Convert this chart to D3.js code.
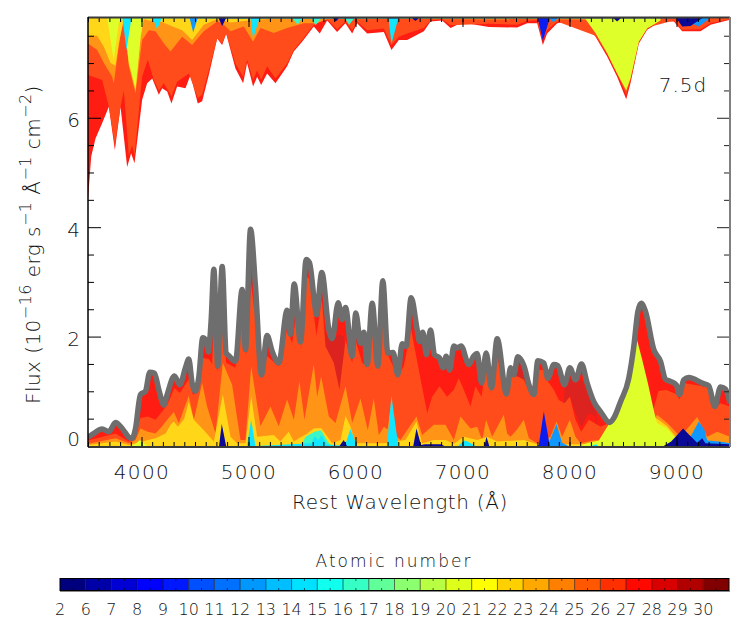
<!DOCTYPE html>
<html><head><meta charset="utf-8">
<script src="https://cdn.jsdelivr.net/npm/d3@7/dist/d3.min.js"></script>
<style>
html,body{margin:0;padding:0;background:#fff}
svg{display:block}
text{font-family:"DejaVu Sans";font-weight:200;fill:#111}
</style></head><body><div id="c"></div>
<script>
// ---- lower panel: cumulative flux boundaries [wavelength, flux] ----
const totalFlux=[[3500,.16],[3555,.23],[3632,.31],[3695,.26],[3757,.43],[3820,.32],[3882,.16],[3913,.14],[3944,.32],[3990,.94],[4037,1.0],[4078,1.35],[4121,1.33],[4162,1.03],[4209,.75],[4240,.94],[4308,1.28],[4358,1.12],[4411,1.43],[4442,1.59],[4473,1.15],[4505,1.0],[4536,1.27],[4573,1.98],[4604,1.93],[4625,1.72],[4651,2.3],[4676,3.23],[4713,1.46],[4754,3.28],[4791,1.70],[4816,1.65],[4878,1.55],[4941,2.86],[4972,1.76],[5019,3.96],[5065,2.92],[5121,1.30],[5174,2.02],[5221,1.73],[5283,1.52],[5361,2.48],[5392,2.04],[5427,2.96],[5486,1.9],[5539,3.41],[5570,3.35],[5617,2.62],[5635,2.40],[5685,3.17],[5751,2.13],[5782,1.96],[5838,2.62],[5875,2.31],[5907,2.53],[5969,1.64],[6003,2.43],[6047,1.88],[6078,2.08],[6109,1.49],[6156,2.61],[6209,1.46],[6255,3.02],[6302,1.70],[6352,1.71],[6395,1.30],[6436,1.87],[6473,1.82],[6520,2.71],[6576,2.13],[6598,1.91],[6629,2.08],[6663,1.67],[6701,2.12],[6738,1.67],[6785,1.61],[6819,1.43],[6847,1.64],[6881,1.39],[6919,1.83],[6950,1.79],[6987,1.83],[7059,1.49],[7106,1.65],[7137,1.69],[7178,1.15],[7221,1.70],[7271,1.06],[7324,1.96],[7411,.95],[7449,1.43],[7479,1.3],[7517,1.63],[7573,1.47],[7626,1.09],[7667,.94],[7704,1.56],[7760,1.52],[7798,1.24],[7854,1.49],[7891,1.47],[7953,1.12],[8003,1.43],[8056,1.21],[8112,1.50],[8165,1.15],[8227,.81],[8290,.63],[8374,.43],[8414,.51],[8477,.81],[8554,1.24],[8601,1.82],[8639,2.46],[8670,2.61],[8710,2.46],[8788,1.76],[8850,1.55],[8897,1.22],[8944,1.18],[8997,1.12],[9028,.94],[9068,1.21],[9115,1.25],[9240,1.15],[9302,1.10],[9358,.72],[9411,1.08],[9458,1.04],[9500,.78]];
const darkRedTop=[[5630,0],[5648,2.31],[5704,2.13],[5766,1.94],[5844,2.04],[5891,2.0],[5910,1.6],[5925,0],[7440,0],[7449,1.3],[7517,1.55],[7573,1.4],[7626,1.0],[7640,0],[7940,0],[7953,1.09],[8003,1.27],[8056,1.18],[8112,1.21],[8165,1.03],[8212,.81],[8252,.6],[8265,0]];
const redUnderDark=[[7990,0],[8003,.94],[8056,.6],[8109,.35],[8181,.6],[8243,.54],[8265,0]];
const orangeRedTop=[[3500,.1],[3757,.23],[3882,.08],[3944,.23],[3990,.51],[4059,.54],[4131,.48],[4193,.63],[4240,.75],[4308,1.06],[4358,.97],[4442,1.22],[4480,.94],[4520,.97],[4573,1.61],[4629,1.59],[4660,1.5],[4676,2.3],[4695,1.43],[4713,1.39],[4754,2.4],[4791,1.52],[4878,1.43],[4941,2.31],[4981,1.67],[5025,2.95],[5081,2.07],[5121,1.24],[5174,1.64],[5283,1.46],[5361,2.13],[5408,1.88],[5439,2.31],[5492,1.85],[5539,3.11],[5570,3.05],[5617,2.31],[5635,2.01],[5685,2.68],[5720,1.82],[5797,1.52],[5850,1.03],[5907,1.94],[5969,1.52],[6000,1.94],[6062,1.52],[6109,1.46],[6156,2.34],[6209,1.46],[6255,2.68],[6302,1.67],[6395,1.27],[6451,1.46],[6520,2.13],[6592,1.39],[6670,.6],[6716,.9],[6785,1.09],[6856,.9],[6919,1.03],[6965,1.24],[7012,1.03],[7075,.72],[7121,1.09],[7178,.9],[7221,1.52],[7271,1.03],[7324,1.64],[7411,.94],[7449,1.27],[7517,1.27],[7573,1.21],[7635,.94],[7667,.90],[7704,1.39],[7776,1.39],[7798,1.18],[7854,1.03],[7900,.84],[7953,.78],[8003,.9],[8056,.48],[8109,.26],[8181,.48],[8290,.35],[8374,.42],[8632,.5],[8788,.7],[8830,1.0],[8897,1.03],[8997,.95],[9028,.85],[9068,1.15],[9240,1.09],[9318,1.06],[9358,.69],[9411,.78],[9500,.72]];
const orangeTop=[[3500,.04],[3757,.14],[3882,.05],[3944,.11],[3990,.32],[4059,.26],[4131,.23],[4193,.36],[4240,.48],[4302,.62],[4349,.42],[4442,.92],[4489,.48],[4567,1.15],[4613,.72],[4692,.23],[4760,1.52],[4847,1.12],[4925,.11],[4972,.11],[5025,1.46],[5112,.36],[5205,.72],[5283,.36],[5361,.85],[5424,.48],[5476,1.18],[5523,.48],[5610,1.49],[5642,.9],[5679,1.27],[5751,.54],[5813,.42],[5907,1.09],[5969,.42],[6047,.87],[6115,.29],[6171,.87],[6218,.2],[6265,.35],[6300,.3],[6336,.85],[6375,.2],[6420,.11],[6570,.54],[6623,.2],[6732,.39],[6841,.39],[6919,.11],[6981,.54],[7075,.32],[7137,.35],[7184,.11],[7221,.48],[7277,.17],[7386,.57],[7417,.23],[7449,.17],[7510,.3],[7573,.48],[7620,.14],[7698,.05],[7822,.17],[7879,.45],[7931,.17],[8003,.48],[8056,.17],[8103,.05],[8227,.1],[8300,.1],[8700,.2],[8819,.57],[8913,.42],[9037,.17],[9193,.53],[9287,.17],[9380,.26],[9500,.17]];
const goldTop=[[3500,.02],[3757,.08],[3882,.02],[4010,.08],[4059,.11],[4131,.14],[4225,.23],[4271,.39],[4302,.45],[4340,.35],[4399,.50],[4442,.81],[4489,.48],[4583,.29],[4676,.08],[4760,.94],[4832,.17],[4894,.05],[4972,.05],[5025,.91],[5081,.17],[5236,.2],[5298,.08],[5376,.26],[5424,.08],[5470,.14],[5536,.21],[5610,.32],[5679,.33],[5782,.05],[5860,.11],[5907,.55],[5954,.35],[6000,.05],[6265,.05],[6467,.11],[6570,.45],[6623,.05],[6732,.11],[6841,.11],[6919,.04],[7012,.17],[7137,.11],[7230,.17],[7324,.08],[7573,.11],[7698,.03],[8103,.03],[8300,.05],[8600,.05],[8790,.5],[8819,.5],[8913,.36],[9006,.14],[9500,.03]];
const yellowGreenTop=[[3900,0],[3950,.05],[3985,.11],[4020,.05],[4060,0],[8100,0],[8165,.05],[8274,.1],[8374,.42],[8414,.5],[8477,.8],[8554,1.22],[8601,1.8],[8626,1.98],[8679,1.58],[8732,1.15],[8794,.6],[8819,.42],[8913,.32],[9006,.11],[9040,0]];
const tealTop=[[5490,0],[5533,.17],[5617,.26],[5679,.29],[5735,.1],[5770,0]];
const cyanTop=[[4985,0],[5025,.48],[5065,0],[5590,.05],[5620,.18],[5650,.1],[5685,.2],[5730,.03],[5900,0],[5953,.31],[6015,0],[6295,0],[6336,.92],[6400,0],[6960,0],[7012,.1],[7050,.08],[7120,0],[8200,0],[8250,.03],[8270,0]];
const skyTop=[[7790,0],[7816,.1],[7879,.40],[7930,.06],[7990,0],[9040,0],[9090,.1],[9140,.2],[9208,.45],[9260,.3],[9287,.1],[9400,.08],[9500,.05]];
const blueTop=[[7700,0],[7713,.02],[7760,.63],[7816,0]];
const navyTop=[[4725,0],[4750,.40],[4791,0],[5850,0],[5890,.11],[5920,0],[6540,0],[6570,.32],[6612,.02],[6650,.03],[6800,.03],[6830,0],[7205,0],[7224,.17],[7250,0],[8880,0],[8950,.08],[9062,.32],[9120,.2],[9193,.06],[9240,.14],[9270,.05],[9500,.03]];
// ---- upper panel: lower edge of each band, hanging from the top of the frame ----
const upperRed=[[3500,4.5],[3530,5.29],[3570,5.62],[3632,5.9],[3695,6.2],[3751,5.41],[3804,6.2],[3866,5.1],[3903,5.35],[3935,5.17],[4006,6.33],[4053,6.63],[4100,6.72],[4162,6.42],[4193,6.54],[4240,6.48],[4280,6.26],[4333,6.57],[4411,6.54],[4458,6.78],[4526,6.26],[4567,6.3],[4629,6.78],[4707,7.45],[4754,7.33],[4791,7.54],[4878,6.9],[4950,6.63],[4987,7.0],[5043,6.57],[5081,6.75],[5118,6.6],[5174,6.81],[5252,6.63],[5361,6.94],[5423,7.21],[5501,7.39],[5610,7.67],[5666,7.54],[5735,7.78],[5828,7.57],[5906,7.73],[5969,7.54],[6015,7.73],[6109,7.54],[6265,7.57],[6336,7.24],[6405,7.42],[6483,7.42],[6639,7.58],[6701,7.76],[6810,7.78],[6888,7.64],[6997,7.74],[7246,7.66],[7511,7.65],[7604,7.73],[7698,7.73],[7729,7.5],[7751,7.33],[7791,7.54],[7885,7.73],[8009,7.78],[8134,7.76],[8243,7.48],[8352,7.12],[8445,6.75],[8530,6.34],[8570,6.63],[8648,7.36],[8726,7.61],[8850,7.76],[8975,7.76],[9053,7.58],[9224,7.58],[9318,7.7],[9500,7.79]];
const upperOrangeRed=[[3500,6.78],[3632,6.69],[3695,6.2],[3751,5.5],[3804,6.2],[3835,6.5],[3882,5.3],[3912,5.5],[3935,5.32],[4006,6.75],[4059,7.06],[4115,6.69],[4162,6.5],[4209,6.63],[4280,6.39],[4333,6.66],[4442,6.81],[4526,6.36],[4567,6.42],[4629,6.87],[4707,7.45],[4754,7.36],[4791,7.54],[4878,6.99],[4950,6.75],[4987,7.06],[5043,6.69],[5081,6.87],[5118,6.69],[5174,6.94],[5252,6.72],[5361,6.99],[5423,7.24],[5501,7.42],[5610,7.7],[5735,7.8],[5828,7.62],[5906,7.76],[5969,7.6],[6015,7.76],[6109,7.6],[6265,7.63],[6336,7.33],[6405,7.48],[6483,7.54],[6639,7.64],[6701,7.78],[6810,7.8],[6888,7.69],[7246,7.72],[7511,7.7],[7604,7.77],[7698,7.78],[7751,7.42],[7791,7.6],[7885,7.76],[8243,7.5],[8352,7.16],[8445,6.8],[8530,6.42],[8570,6.68],[8648,7.4],[8726,7.65],[8975,7.78],[9053,7.61],[9224,7.62],[9318,7.73],[9500,7.8]];
const upperOrange=[[3500,7.36],[3586,7.24],[3648,7.0],[3726,6.75],[3741,6.63],[3804,7.54],[3835,7.78],[3882,6.94],[3944,6.45],[4006,7.42],[4069,7.6],[4131,7.58],[4209,7.36],[4271,7.21],[4380,7.48],[4473,7.33],[4582,7.58],[4707,7.76],[4754,7.73],[4832,7.58],[4956,7.67],[5043,7.39],[5112,7.64],[5236,7.55],[5361,7.64],[5517,7.73],[5641,7.73],[5735,7.8],[9500,7.82]];
const upperGold=[[3500,7.5],[3586,7.5],[3648,7.3],[3710,7.0],[3757,6.95],[3788,7.36],[3835,7.8],[3882,6.98],[3944,6.5],[3991,7.45],[4020,7.8],[4069,7.78],[4193,7.75],[4300,7.66],[4380,7.6],[4473,7.42],[4582,7.7],[4707,7.8],[4832,7.74],[5000,7.78],[5300,7.82]];
const upperYellowGreen=[[3680,7.82],[3740,7.05],[3790,7.75],[3835,7.82],[3882,7.03],[3944,6.54],[3991,7.48],[4020,7.82],[8150,7.8],[8243,7.55],[8352,7.18],[8445,6.81],[8530,6.5],[8570,6.72],[8648,7.39],[8726,7.63],[8850,7.78]];
const upperTeal=[[5410,7.82],[5460,7.7],[5500,7.82],[5590,7.82],[5626,7.69],[5680,7.82],[5900,7.82],[5940,7.7],[5990,7.82]];
const upperCyan=[[3822,7.82],[3860,7.24],[3906,7.82],[4105,7.82],[4146,7.62],[4190,7.82],[5018,7.82],[5043,7.45],[5103,7.82],[6308,7.82],[6336,7.35],[6400,7.82]];
const upperSky=[[4450,7.82],[4483,7.56],[4525,7.82],[7813,7.82],[7850,7.74],[7890,7.82],[9100,7.82],[9150,7.72],[9208,7.67],[9260,7.74],[9310,7.82]];
const upperBlue=[[7704,7.82],[7751,7.41],[7813,7.8]];
const upperNavy=[[4720,7.82],[4754,7.68],[4790,7.82],[5790,7.82],[5815,7.76],[5845,7.82],[6530,7.82],[6560,7.77],[6590,7.82],[8410,7.82],[8445,7.76],[8480,7.82],[9000,7.82],[9053,7.67],[9131,7.68],[9193,7.76],[9240,7.82]];
// ---- tick values, labels, colours ----
const xMajor=[4000,5000,6000,7000,8000,9000];
const xMinor=d3.range(3500,9501,100);
const yMajor=[0,2,4,6];
const yMinor=[.5,1,1.5,2.5,3,3.5,4.5,5,5.5,6.5,7,7.5];
const atomicNumbers=[2,6,7,8,9,10,11,12,13,14,15,16,17,18,19,20,21,22,23,24,25,26,27,28,29,30];
const barColors=["#00007f","#0000a8","#0000d5","#0000ff","#0018ff","#0050ff","#0070ff","#0098ff","#00beff","#00e0ff","#10ffee","#35ffc5","#60ff9a","#8cff70","#b8ff44","#deff1a","#ffff00","#ffd000","#ffa800","#ff8000","#ff5800","#ff3000","#ff0800","#d80000","#b00000","#800000"];
const bandColors={red:"#ff1c12",dark:"#dc2320",orangeRed:"#ff4c1a",orange:"#ff9416",gold:"#ffd618",yg:"#deff2a",teal:"#3cf5c8",cyan:"#12e6ff",sky:"#1098ff",blue:"#0a1cf0",navy:"#0a0a96"};

const W=747,H=622;
const svg=d3.select("#c").append("svg").attr("width",W).attr("height",H);
const x=d3.scaleLinear().domain([3500,9500]).range([88,730]);
const y=d3.scaleLinear().domain([0,7.824]).range([446,18]);
const defs=svg.append("defs");
defs.append("clipPath").attr("id","plot").append("rect").attr("x",88).attr("y",18).attr("width",642).attr("height",428);
const plot=svg.append("g").attr("clip-path","url(#plot)");

const lowerArea=d3.area().x(d=>x(d[0])).y0(y(0)).y1(d=>y(d[1]));
const upperArea=d3.area().x(d=>x(d[0])).y0(y(7.824)).y1(d=>y(d[1]));
const lowerLayers=[[totalFlux,"red"],[darkRedTop,"dark"],[redUnderDark,"red"],[orangeRedTop,"orangeRed"],[orangeTop,"orange"],[goldTop,"gold"],[yellowGreenTop,"yg"],[tealTop,"teal"],[cyanTop,"cyan"],[skyTop,"sky"],[blueTop,"blue"],[navyTop,"navy"]];
const upperLayers=[[upperRed,"red"],[upperOrangeRed,"orangeRed"],[upperOrange,"orange"],[upperGold,"gold"],[upperYellowGreen,"yg"],[upperTeal,"teal"],[upperCyan,"cyan"],[upperSky,"sky"],[upperBlue,"blue"],[upperNavy,"navy"]];
plot.selectAll("path.up").data(upperLayers).join("path").attr("class","up").attr("d",d=>upperArea(d[0])).attr("fill",d=>bandColors[d[1]]);
plot.selectAll("path.low").data(lowerLayers).join("path").attr("class","low").attr("d",d=>lowerArea(d[0])).attr("fill",d=>bandColors[d[1]]);
svg.append("path").attr("d",d3.line().curve(d3.curveMonotoneX).x(d=>x(d[0])).y(d=>y(d[1]))(totalFlux)).attr("fill","none").attr("stroke","#6e6e6e").attr("stroke-width",5.5).attr("stroke-linejoin","round").attr("clip-path","url(#plot)");

// axes
function frame(g,col,w){g.select(".domain").remove();g.selectAll("line").attr("stroke",col).attr("stroke-width",w||1);}
const tickLabel=g=>g.selectAll("text").attr("font-size",20).style("letter-spacing","1.4px").attr("fill","#111");
// minor
svg.append("g").attr("transform","translate(0,446)").call(d3.axisBottom(x).tickValues(xMinor).tickSize(-4).tickFormat("")).call(frame,"#000");
svg.append("g").attr("transform","translate(0,18)").call(d3.axisTop(x).tickValues(xMinor).tickSize(-4).tickFormat("")).call(frame,"#000");
svg.append("g").attr("transform","translate(88,0)").call(d3.axisLeft(y).tickValues(yMinor).tickSize(-6).tickFormat("")).call(frame,"#000");
svg.append("g").attr("transform","translate(730,0)").call(d3.axisRight(y).tickValues(yMinor).tickSize(-6).tickFormat("")).call(frame,"#222");
// major
const bx=svg.append("g").attr("transform","translate(0,446)").call(d3.axisBottom(x).tickValues(xMajor).tickSize(-9).tickPadding(18).tickFormat(d=>d)).call(frame,"#000").call(tickLabel);
bx.selectAll("text").attr("dy",null).attr("y",33).attr("dominant-baseline","auto");
svg.append("g").attr("transform","translate(0,18)").call(d3.axisTop(x).tickValues(xMajor).tickSize(-9).tickFormat("")).call(frame,"#000");
const ly=svg.append("g").attr("transform","translate(88,0)").call(d3.axisLeft(y).tickValues(yMajor).tickSize(-13).tickPadding(8).tickFormat(d=>d)).call(frame,"#000").call(tickLabel);
ly.selectAll("text").attr("dy",d=>d===0?"-0.05em":"0.45em").style("letter-spacing","0");
svg.append("g").attr("transform","translate(730,0)").call(d3.axisRight(y).tickValues(yMajor).tickSize(-13).tickFormat("")).call(frame,"#222");
// frame lines
const edge=(x1,y1,x2,y2,c,w)=>svg.append("line").attr("x1",x1).attr("y1",y1).attr("x2",x2).attr("y2",y2).attr("stroke",c).attr("stroke-width",w);
edge(88,17.5,730,17.5,"#3a3a3a",2);
edge(88,447,730,447,"#3a3a3a",2);
edge(88,17,88,447,"#000",1.5);
edge(730,17,730,447,"#808080",2);

// titles
svg.append("text").attr("x",400).attr("y",509).attr("text-anchor","middle").attr("font-size",20).style("letter-spacing","0.65px").text("Rest Wavelength (Å)");
svg.append("text").attr("x",683).attr("y",92).attr("text-anchor","middle").attr("font-size",20).style("letter-spacing","1px").text("7.5d");
const yt=svg.append("text").attr("transform","translate(40,404) rotate(-90)").attr("font-size",20).style("letter-spacing","0.45px");
[["Flux (10",0],["−16",1],[" erg s",0],["−1",1],[" Å",0],["−1",1],[" cm",0],["−2",1],[")",0]].forEach((p,i,a)=>{
  const prev=i>0?a[i-1][1]:0;
  const ts=yt.append("tspan").text(p[0]).attr("xml:space","preserve").style("white-space","pre");
  const dy=(p[1]?-9:0)+(prev?9:0);
  if(dy) ts.attr("dy",dy);
  if(p[1]) ts.attr("font-size",16);
});

// colour bar
const cb=d3.scaleLinear().domain([0,atomicNumbers.length]).range([60,729]);
const barY=578.5,barH=12;
svg.selectAll("rect.cell").data(barColors).join("rect").attr("class","cell").attr("x",(d,i)=>cb(i)).attr("y",barY).attr("width",cb(1)-cb(0)).attr("height",barH).attr("fill",d=>d);
svg.selectAll("line.sep").data(d3.range(1,atomicNumbers.length)).join("line").attr("class","sep").attr("x1",d=>cb(d)).attr("x2",d=>cb(d)).attr("y1",barY).attr("y2",barY+barH).attr("stroke","#000").attr("stroke-opacity",.55);
svg.selectAll("line.h1").data(d3.range(0,atomicNumbers.length)).join("line").attr("class","h1").attr("x1",d=>cb(d+.5)).attr("x2",d=>cb(d+.5)).attr("y1",barY).attr("y2",barY+2.5).attr("stroke","#000").attr("stroke-opacity",.6);
svg.selectAll("line.h2").data(d3.range(0,atomicNumbers.length)).join("line").attr("class","h2").attr("x1",d=>cb(d+.5)).attr("x2",d=>cb(d+.5)).attr("y1",barY+barH-2.5).attr("y2",barY+barH).attr("stroke","#000").attr("stroke-opacity",.6);
svg.append("rect").attr("x",60).attr("y",barY).attr("width",669).attr("height",barH).attr("fill","none").attr("stroke","#000");
edge(60,barY+barH+1,730,barY+barH+1,"#888",1);
svg.selectAll("text.cbl").data(atomicNumbers).join("text").attr("class","cbl").attr("x",(d,i)=>cb(i)).attr("y",615).attr("text-anchor","middle").attr("font-size",16).text(d=>d);
svg.append("text").attr("x",394).attr("y",567).attr("text-anchor","middle").attr("font-size",17).style("letter-spacing","2px").text("Atomic number");
</script></body></html>
